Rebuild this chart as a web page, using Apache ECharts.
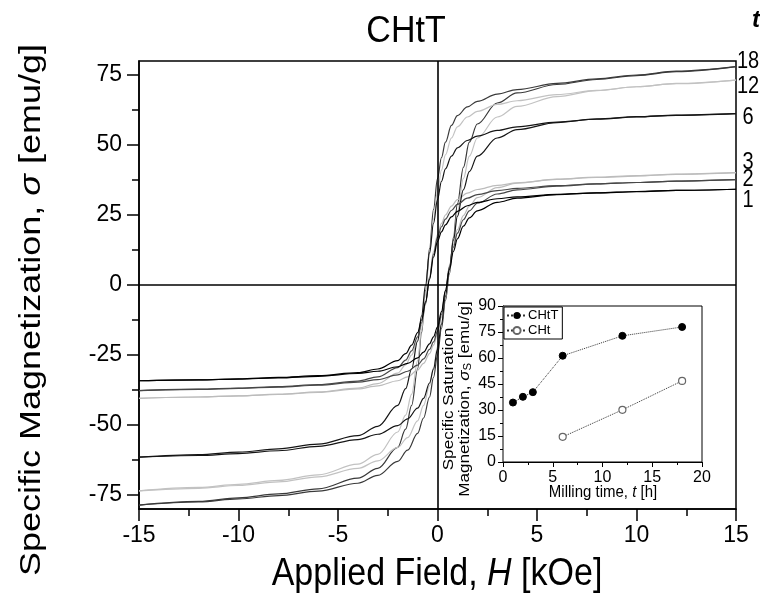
<!DOCTYPE html>
<html>
<head>
<meta charset="utf-8">
<script src="https://cdn.jsdelivr.net/npm/echarts@6/dist/echarts.min.js"></script>
<style>html,body{margin:0;padding:0;background:#fff}#c{width:760px;height:597px}</style>
</head>
<body>
<div id="c"></div>
<script>
// ---- main plot data: applied field H [kOe] and magnetization [emu/g] ----
const fieldDown = [15,12,10,8,6,4,3,2,1.5,1,0.7,0.4,0.2,0,-0.2,-0.4,-0.6,-0.8,-1,-1.3,-1.6,-2,-3,-4,-6,-8,-10,-12,-15];
const fieldUp = [-15,-12,-10,-8,-6,-4,-3,-2,-1.5,-1,-0.7,-0.4,-0.2,0,0.2,0.4,0.6,0.8,1,1.3,1.6,2,3,4,6,8,10,12,15];

const m18Down = [78.0,76.4,75.0,73.6,72.0,69.8,68.2,65.6,63.6,60.5,57.0,51.0,45.5,38.0,27.0,13.0,-2.0,-17.0,-30.0,-43.0,-51.5,-58.0,-65.5,-69.0,-72.8,-74.6,-76.0,-77.3,-78.6];
const m18Up = [-78.6,-77.5,-76.4,-75.2,-73.6,-70.8,-68.0,-63.0,-59.0,-53.0,-47.5,-40.0,-33.0,-25.0,-15.5,-5.5,4.0,17.0,29.0,42.0,51.0,57.5,65.0,68.6,71.6,73.4,74.8,76.2,78.0];
const m12Down = [73.2,72.0,70.8,69.5,68.0,65.8,64.5,62.0,60.0,56.5,52.5,46.5,41.0,33.5,23.5,11.0,-3.0,-16.0,-27.0,-39.0,-46.5,-52.5,-60.5,-64.0,-67.8,-69.8,-71.2,-72.3,-73.5];
const m12Up = [-73.5,-72.6,-71.6,-70.3,-68.5,-65.5,-62.8,-58.0,-54.5,-48.5,-43.0,-36.0,-29.5,-22.0,-13.5,-4.5,5.0,16.0,26.0,38.0,46.0,52.5,60.0,63.8,67.3,69.4,70.8,71.9,73.2];
const m6Down = [61.2,60.6,60.0,59.2,58.2,56.5,55.2,53.2,51.6,49.0,46.0,41.5,37.0,30.5,22.0,11.5,0.0,-11.0,-20.0,-30.0,-37.0,-43.0,-50.5,-53.8,-56.8,-58.5,-59.7,-60.6,-61.5];
const m6Up = [-61.5,-60.9,-60.2,-59.2,-57.6,-55.2,-53.3,-50.2,-47.8,-44.0,-40.5,-35.0,-30.0,-23.0,-14.0,-4.0,6.0,16.0,24.5,34.0,40.5,46.0,52.5,55.5,58.0,59.3,60.1,60.7,61.2];
const m3Down = [40.1,39.5,38.9,38.4,37.7,36.5,35.6,34.1,32.8,30.5,28.2,25.0,22.0,18.0,12.0,3.0,-7.0,-14.5,-20.0,-25.0,-28.5,-31.5,-35.2,-36.8,-38.2,-39.0,-39.6,-40.0,-40.5];
const m3Up = [-40.5,-40.0,-39.6,-39.1,-38.4,-37.1,-36.0,-34.2,-32.8,-30.4,-28.0,-24.5,-21.5,-17.5,-11.5,-2.5,7.0,14.5,19.8,24.8,28.2,31.2,34.8,36.4,37.8,38.5,39.1,39.6,40.1];
const m2Down = [37.6,37.1,36.6,36.1,35.5,34.5,33.7,32.3,31.0,28.8,26.6,23.5,20.8,17.0,11.0,2.5,-6.5,-13.5,-18.5,-23.5,-26.8,-29.5,-32.8,-34.3,-35.6,-36.3,-36.8,-37.2,-37.7];
const m2Up = [-37.7,-37.3,-36.9,-36.5,-35.8,-34.7,-33.8,-32.1,-30.8,-28.6,-26.4,-23.0,-20.3,-16.5,-10.5,-2.0,6.5,13.5,18.5,23.3,26.5,29.2,32.5,34.0,35.3,36.1,36.6,37.1,37.6];
const m1Down = [34.2,33.8,33.3,32.9,32.4,31.5,30.8,29.5,28.3,26.3,24.3,21.5,19.0,15.5,10.0,2.0,-6.0,-12.5,-17.0,-21.5,-24.5,-27.0,-30.0,-31.3,-32.4,-33.0,-33.5,-33.9,-34.2];
const m1Up = [-34.2,-33.9,-33.6,-33.2,-32.6,-31.6,-30.8,-29.2,-28.0,-26.0,-24.0,-21.0,-18.5,-15.0,-9.5,-2.0,5.5,12.0,16.5,21.0,24.0,26.5,29.5,31.0,32.3,32.9,33.4,33.8,34.2];

const loopNames = ['18','12','6','3','2','1'];
const yMajor = [-75,-50,-25,0,25,50,75];
const yMinor = [-62.5,-37.5,-12.5,12.5,37.5,62.5];

// ---- inset data ----
const millTimeCHtT = [1,2,3,6,12,18];
const satCHtT = [34.3,37.6,40.3,61.3,72.8,77.9];
const millTimeCHt = [6,12,18];
const satCHt = [14.5,30.1,46.8];

const FONT = '"Liberation Sans", Arial, sans-serif';
const loops = [
  {name:'18', down:m18Down, up:m18Up, color:'#3a3a3a'},
  {name:'12', down:m12Down, up:m12Up, color:'#c2c2c2'},
  {name:'3',  down:m3Down,  up:m3Up,  color:'#bcbcbc'},
  {name:'6',  down:m6Down,  up:m6Up,  color:'#151515'},
  {name:'2',  down:m2Down,  up:m2Up,  color:'#474747'},
  {name:'1',  down:m1Down,  up:m1Up,  color:'#000000'}
];
const pair = (xs, ys) => xs.map((x, i) => [x, ys[i]]);

const series = [];
loops.forEach(l => {
  [['down', fieldDown], ['up', fieldUp]].forEach(([k, f]) => {
    series.push({
      type:'line', name:l.name + k, xAxisIndex:0, yAxisIndex:0,
      data: pair(f, l[k]), showSymbol:false, symbol:'none',
      smooth:0.35, smoothMonotone:'x',
      lineStyle:{color:l.color, width:1.2}, silent:true, z:3
    });
  });
});
series[0].markLine = {
  silent:true, symbol:['none','none'], label:{show:false},
  lineStyle:{color:'#000', width:1.6, type:'solid'},
  data:[{xAxis:0},{yAxis:0}], z:5
};
series.push({
  type:'line', name:'CHtT', xAxisIndex:1, yAxisIndex:2,
  data: pair(millTimeCHtT, satCHtT), symbol:'circle', symbolSize:7,
  itemStyle:{color:'#000', borderColor:'#000'},
  lineStyle:{color:'#333', width:1, type:'dotted'}, z:6
});
series.push({
  type:'line', name:'CHt', xAxisIndex:1, yAxisIndex:2,
  data: pair(millTimeCHt, satCHt), symbol:'circle', symbolSize:7,
  itemStyle:{color:'#fff', borderColor:'#666', borderWidth:1.2},
  lineStyle:{color:'#333', width:1, type:'dotted'}, z:6
});

const axisBlack = {color:'#000', width:1.5};
const txt = (x, y, text, size, extra) => Object.assign({type:'text', x:x, y:y, z:10, style:Object.assign({
  text:text, fontSize:size, fontFamily:FONT, fill:'#000', textAlign:'center', textVerticalAlign:'middle'}, (extra && extra.style) || {})},
  (extra && extra.el) || {});
const option = {
  animation:false,
  backgroundColor:'#fff',
  textStyle:{fontFamily:FONT},
  grid:[
    {left:139, top:61, width:597, height:448, show:true, borderColor:'#000', borderWidth:1.5, backgroundColor:'transparent'},
    {left:503, top:306, width:199, height:156, show:true, borderColor:'#000', borderWidth:1, backgroundColor:'#fff', z:4}
  ],
  legend:{
    data:['CHtT','CHt'], left:504, top:307, orient:'vertical',
    backgroundColor:'#fff', borderColor:'#000', borderWidth:1, borderRadius:0,
    padding:[2,4,2,2], itemGap:2, itemWidth:20, itemHeight:9,
    textStyle:{fontSize:13, fontFamily:FONT, color:'#000', padding:[0,0,0,-4]}, z:8
  },
  xAxis:[
    {gridIndex:0, type:'value', min:-15, max:15, interval:5,
     axisLine:{show:true, onZero:false, lineStyle:axisBlack},
     axisTick:{show:true, length:12, lineStyle:axisBlack},
     minorTick:{show:true, splitNumber:2, length:7, lineStyle:{color:'#000', width:1.5}},
     axisLabel:{fontSize:23, color:'#000', margin:15, fontFamily:FONT},
     splitLine:{show:false}},
    {gridIndex:1, type:'value', min:0, max:20, interval:5,
     axisLine:{show:true, onZero:false, lineStyle:{color:'#000', width:1}},
     axisTick:{show:true, length:5, lineStyle:{color:'#000', width:1}},
     minorTick:{show:true, splitNumber:2, length:3, lineStyle:{color:'#000', width:1}},
     axisLabel:{fontSize:16, color:'#000', margin:8, fontFamily:FONT},
     splitLine:{show:false}}
  ],
  yAxis:[
    {gridIndex:0, type:'value', min:-80, max:80,
     axisLine:{show:true, onZero:false, lineStyle:axisBlack},
     axisTick:{show:true, customValues:yMajor, length:12, lineStyle:axisBlack},
     axisLabel:{customValues:yMajor, fontSize:23, color:'#000', margin:17, fontFamily:FONT},
     splitLine:{show:false}},
    {gridIndex:0, type:'value', min:-80, max:80, position:'left',
     axisLine:{show:false, onZero:false},
     axisTick:{show:true, customValues:yMinor, length:7, lineStyle:axisBlack},
     axisLabel:{show:false}, splitLine:{show:false}},
    {gridIndex:1, type:'value', min:0, max:90, interval:15,
     axisLine:{show:true, onZero:false, lineStyle:{color:'#000', width:1}},
     axisTick:{show:true, length:5, lineStyle:{color:'#000', width:1}},
     minorTick:{show:true, splitNumber:2, length:3, lineStyle:{color:'#000', width:1}},
     axisLabel:{fontSize:16, color:'#000', margin:7, fontFamily:FONT},
     splitLine:{show:false}}
  ],
  graphic:[
    txt(406, 32, 'CHtT', 34, {el:{scaleY:1.1}}),
    txt(437, 574, 'Applied Field, {i|H} [kOe]', 34, {el:{scaleY:1.12},
      style:{rich:{i:{fontStyle:'italic', fontSize:34, fontFamily:FONT}}}}),
    txt(32, 310, 'Specific Magnetization, {i|σ} [emu/g]', 30, {el:{rotation:Math.PI/2, scaleX:1.2},
      style:{rich:{i:{fontStyle:'italic', fontSize:30, fontFamily:FONT}}}}),
    txt(457, 399, 'Specific Saturation\nMagnetization, {i|σ}{s|S} [emu/g]', 15, {el:{rotation:Math.PI/2, scaleX:1.14},
      style:{lineHeight:16, rich:{i:{fontStyle:'italic', fontSize:15, fontFamily:FONT}, s:{fontSize:10, fontFamily:FONT, verticalAlign:'bottom', padding:[5,0,0,0]}}}}),
    txt(603, 492, 'Milling time, {i|t} [h]', 15, {el:{scaleY:1.12},
      style:{rich:{i:{fontStyle:'italic', fontSize:15, fontFamily:FONT}}}}),
    txt(748, 62, loopNames[0], 20, {el:{scaleY:1.15}}),
    txt(748, 87, loopNames[1], 20, {el:{scaleY:1.15}}),
    txt(748, 118, loopNames[2], 20, {el:{scaleY:1.15}}),
    txt(748, 163, loopNames[3], 20, {el:{scaleY:1.15}}),
    txt(748, 180, loopNames[4], 20, {el:{scaleY:1.15}}),
    txt(748, 201, loopNames[5], 20, {el:{scaleY:1.15}}),
    txt(752, 20, 't', 24, {style:{fontStyle:'italic', fontWeight:'bold', textAlign:'left'}})
  ],
  series: series
};
const chart = echarts.init(document.getElementById('c'), null, {renderer:'canvas'});
chart.setOption(option);
</script>
</body>
</html>
